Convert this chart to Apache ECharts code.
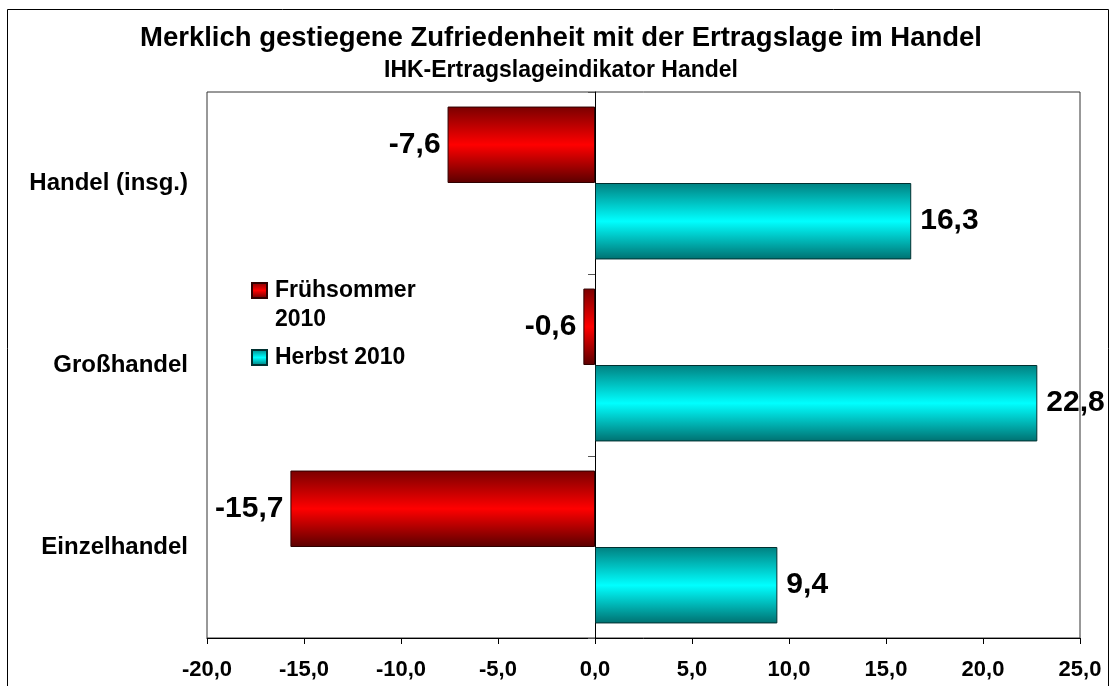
<!DOCTYPE html>
<html>
<head>
<meta charset="utf-8">
<script src="https://cdn.jsdelivr.net/npm/echarts@6/dist/echarts.min.js"></script>
<style>
html, body { margin: 0; padding: 0; background: #fff; }
#chart { width: 1111px; height: 686px; }
</style>
</head>
<body>
<div id="chart"></div>
<script>
var categories = ['Handel (insg.)', 'Großhandel', 'Einzelhandel'];
var fruehsommer = [-7.6, -0.6, -15.7];
var herbst = [16.3, 22.8, 9.4];
var seriesNames = ['Frühsommer 2010', 'Herbst 2010'];

var FONT = 'Liberation Sans, Arial, sans-serif';

function comma(v, digits) {
    return v.toFixed(digits).replace('.', ',');
}

function barGradient(edgeTop, mid, edgeBottom) {
    return new echarts.graphic.LinearGradient(0, 0, 0, 1, [
        {offset: 0, color: edgeTop},
        {offset: 0.5, color: mid},
        {offset: 1, color: edgeBottom}
    ]);
}

var legendText = {fontFamily: FONT, fontWeight: 'bold', fontSize: 23, lineHeight: 29, color: '#000', padding: [0, 0, 0, 3]};

var myChart = echarts.init(document.getElementById('chart'));

var option = {
    backgroundColor: '#fff',
    animation: false,
    title: {
        text: 'Merklich gestiegene Zufriedenheit mit der Ertragslage im Handel',
        subtext: 'IHK-Ertragslageindikator Handel',
        left: 561,
        textAlign: 'center',
        top: 25,
        padding: 0,
        itemGap: 7,
        textStyle: {fontFamily: FONT, fontWeight: 'bold', fontSize: 27.5, lineHeight: 27, color: '#000'},
        subtextStyle: {fontFamily: FONT, fontWeight: 'bold', fontSize: 23, lineHeight: 22, color: '#000'}
    },
    graphic: [{
        type: 'rect',
        shape: {x: 7.5, y: 9.5, width: 1101, height: 700},
        style: {fill: 'none', stroke: '#000', lineWidth: 1},
        silent: true
    }],
    // two legends so the first icon sits next to the first text line
    legend: [{
        orient: 'vertical',
        left: 251,
        top: 247,
        padding: 0,
        itemWidth: 15,
        itemHeight: 15,
        icon: 'rect',
        data: [seriesNames[0]],
        formatter: function (name) { return '\n' + name.replace(' ', '\n'); },
        textStyle: legendText
    }, {
        orient: 'vertical',
        left: 251,
        top: 343,
        padding: 0,
        itemWidth: 15,
        itemHeight: 15,
        icon: 'rect',
        data: [seriesNames[1]],
        textStyle: legendText
    }],
    grid: {
        left: 207, right: 31, top: 92, bottom: 48,
        show: true, borderColor: '#333', borderWidth: 1,
        containLabel: false
    },
    xAxis: {
        type: 'value',
        min: -20, max: 25, interval: 5,
        axisLine: {show: true, onZero: false, lineStyle: {color: '#000', width: 1}},
        axisTick: {show: true, length: 6, lineStyle: {color: '#000'}},
        splitLine: {show: false},
        axisLabel: {
            margin: 21,
            fontFamily: FONT, fontWeight: 'bold', fontSize: 22, color: '#000',
            formatter: function (v) { return comma(v, 1); }
        }
    },
    yAxis: [{
        type: 'category',
        data: categories,
        inverse: true,
        position: 'left',
        axisLine: {show: false, onZero: false},
        axisTick: {show: false},
        axisLabel: {margin: 19, fontFamily: FONT, fontWeight: 'bold', fontSize: 24, color: '#000'}
    }, {
        type: 'category',
        data: categories,
        inverse: true,
        position: 'left',
        axisLine: {show: true, onZero: true, onZeroAxisIndex: 0, lineStyle: {color: '#000', width: 1}},
        axisTick: {show: true, length: 7, lineStyle: {color: '#555'}},
        axisLabel: {show: false}
    }],
    series: [{
        name: seriesNames[0],
        type: 'bar',
        data: fruehsommer,
        barGap: '0%',
        barCategoryGap: '16%',
        itemStyle: {
            color: barGradient('#7a0000', '#ff0000', '#5a0000'),
            borderColor: '#300000', borderWidth: 1
        },
        label: {
            show: true, position: 'outside', distance: 7,
            fontFamily: FONT, fontWeight: 'bold', fontSize: 30, color: '#000',
            formatter: function (p) { return comma(p.value, 1); }
        }
    }, {
        name: seriesNames[1],
        type: 'bar',
        data: herbst,
        barGap: '0%',
        barCategoryGap: '16%',
        itemStyle: {
            color: barGradient('#008080', '#00ffff', '#007070'),
            borderColor: '#003030', borderWidth: 1
        },
        label: {
            show: true, position: 'outside', distance: 9,
            fontFamily: FONT, fontWeight: 'bold', fontSize: 30, color: '#000',
            formatter: function (p) { return comma(p.value, 1); }
        }
    }]
};

myChart.setOption(option);
</script>
</body>
</html>
